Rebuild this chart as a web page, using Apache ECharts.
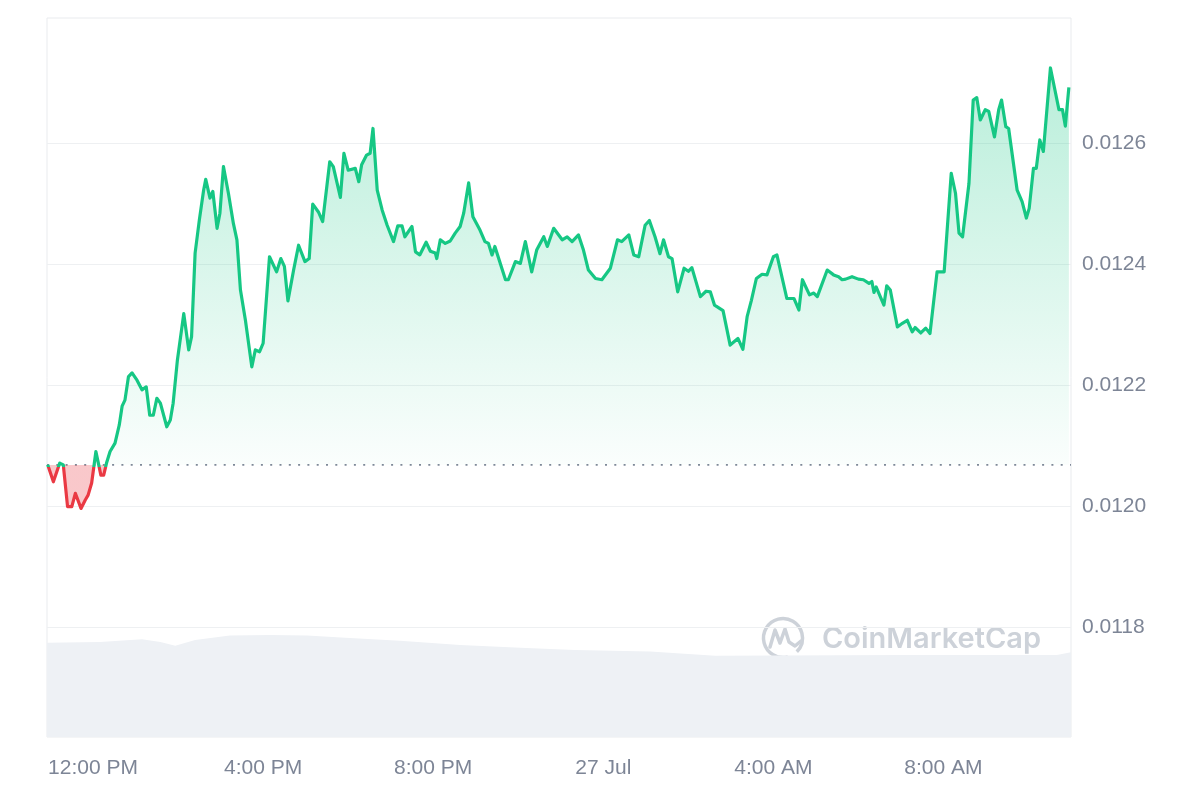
<!DOCTYPE html>
<html>
<head>
<meta charset="utf-8">
<script src="https://cdn.jsdelivr.net/npm/echarts@6/dist/echarts.min.js"></script>
<style>
html,body{margin:0;padding:0;background:#ffffff;}
#chart{width:1200px;height:800px;}
</style>
</head>
<body>
<div id="chart"></div>
<script>
// time in minutes from 12:00 PM (26 Jul)
const minutesFrom12PM = [
-64,-56,-47,-42,-36,-30,-25,-17,-11,-7,-2,4,8,11,15,19,24,31,37,41,45,50,55,62,69,75,80,85,90,95,
104,109,113,119,128,135,139,144,150,156,159,165,169,175,179,184,191,198,203,208,215,224,229,235,240,
249,259,265,270,275,283,290,299,305,310,318,324,334,339,349,354,360,370,375,379,386,391,395,401,408,
415,424,430,436,440,450,455,461,470,476,483,485,490,497,504,511,518,523,530,536,546,553,558,563,567,
582,586,596,603,610,619,626,636,641,650,662,669,676,685,692,699,709,718,730,740,746,756,763,770,779,
785,793,800,805,812,817,825,834,840,845,857,865,871,877,889,899,910,917,923,929,936,944,951,960,965,
979,989,996,1001,1011,1017,1022,1036,1045,1052,1057,1062,1071,1080,1087,1095,1099,1102,1105,1116,1120,
1125,1135,1142,1149,1156,1160,1168,1175,1181,1191,1201,1211,1217,1222,1227,1236,1242,1247,1252,1259,
1264,1272,1278,1282,1288,1292,1304,1311,1317,1321,1327,1331,1336,1341,1351,1363,1368,1372,1377
];
const price = [
0.012068,0.012040,0.012071,0.012068,0.011999,0.011999,0.012021,0.011996,0.012010,0.012018,0.012038,0.012090,0.012068,0.012051,0.012051,0.012071,0.012090,0.012104,0.012134,0.012165,0.012175,0.012214,0.012220,0.012208,0.012192,0.012197,0.012150,0.012150,0.012178,0.012170,
0.012131,0.012142,0.012170,0.012241,0.012318,0.012258,0.012280,0.012418,0.012473,0.012522,0.012540,0.012509,0.012520,0.012459,0.012484,0.012561,0.012517,0.012467,0.012440,0.012357,0.012307,0.012230,0.012258,0.012255,0.012269,
0.012412,0.012387,0.012409,0.012396,0.012339,0.012390,0.012431,0.012404,0.012409,0.012499,0.012486,0.012470,0.012569,0.012561,0.012510,0.012583,0.012555,0.012558,0.012536,0.012564,0.012580,0.012583,0.012624,0.012522,0.012489,
0.012464,0.012437,0.012463,0.012463,0.012445,0.012462,0.012420,0.012415,0.012436,0.012421,0.012418,0.012409,0.012440,0.012434,0.012438,0.012451,0.012462,0.012484,0.012534,0.012478,0.012456,0.012437,0.012434,0.012415,0.012429,
0.012374,0.012374,0.012404,0.012401,0.012437,0.012387,0.012423,0.012445,0.012429,0.012459,0.012440,0.012445,0.012437,0.012448,0.012423,0.012390,0.012376,0.012374,0.012393,0.012440,0.012437,0.012448,0.012415,0.012412,0.012464,
0.012472,0.012445,0.012417,0.012440,0.012412,0.012409,0.012354,0.012393,0.012388,0.012394,0.012346,0.012355,0.012354,0.012332,0.012323,0.012266,0.012277,0.012259,0.012313,0.012340,0.012376,0.012383,0.012382,0.012412,0.012415,
0.012343,0.012343,0.012324,0.012374,0.012349,0.012352,0.012346,0.012390,0.012382,0.012379,0.012374,0.012375,0.012379,0.012375,0.012374,0.012368,0.012371,0.012353,0.012362,0.012332,0.012364,
0.012357,0.012296,0.012302,0.012307,0.012288,0.012295,0.012286,0.012294,0.012285,0.012387,0.012387,0.012550,0.012517,0.012451,0.012445,0.012533,0.012671,0.012675,0.012638,0.012655,
0.012652,0.012610,0.012655,0.012671,0.012627,0.012624,0.012522,0.012503,0.012476,0.012492,0.012558,0.012558,0.012605,0.012586,0.012724,0.012655,0.012655,0.012628,0.012692
];
// volume (relative units) at minutes from 12:00 PM
const volMinutes = [-65,10,69,95,116,144,193,250,302,356,433,518,603,680,786,878,1145,1360,1380];
const volume =     [13.1,13.2,13.6,13.2,12.7,13.5,14.1,14.2,14.1,13.8,13.4,12.8,12.4,12.1,11.9,11.3,11.4,11.4,11.8];

const xTickMinutes = [0,240,480,720,960,1200];
const xTickLabels = ['12:00 PM','4:00 PM','8:00 PM','27 Jul','4:00 AM','8:00 AM'];
const yTickValues = [0.0118,0.0120,0.0122,0.0124,0.0126];

const xMin = -65, xMax = 1380;
const base = price[0];
const pMax = Math.max(...price), pMin = Math.min(...price);
const baseOffset = (pMax - base) / (pMax - pMin);

const priceData = minutesFrom12PM.map((t,i)=>[t, price[i]]);
const volData = volMinutes.map((t,i)=>[t, volume[i]]);
const baseData = [[xMin, base],[xMax, base]];

const chart = echarts.init(document.getElementById('chart'), null, {renderer:'canvas'});
const labelColor = '#7d8596';
const font = '"Liberation Sans", Arial, sans-serif';
const G = '#16c784', R = '#ea3943';

chart.setOption({
  animation:false,
  backgroundColor:'#ffffff',
  grid:{left:47, right:129, top:18, bottom:63, show:true, borderColor:'#e9ebee', borderWidth:1, backgroundColor:'transparent'},
  xAxis:{
    type:'value', min:xMin, max:xMax,
    axisLine:{show:false}, axisTick:{show:false}, splitLine:{show:false},
    axisLabel:{
      customValues:xTickMinutes,
      formatter:(v)=>{const i=xTickMinutes.indexOf(v); return i>=0?xTickLabels[i]:'';},
      color:labelColor, fontSize:21, fontFamily:font, margin:21
    }
  },
  yAxis:[{
    type:'value', position:'right', min:0.0116182, max:0.0128066, scale:true,
    axisLine:{show:false},
    axisTick:{show:false, customValues:yTickValues},
    splitLine:{show:true, lineStyle:{color:'#eef0f2', width:1}},
    axisLabel:{customValues:yTickValues, formatter:(v)=>v.toFixed(4), color:labelColor, fontSize:21, fontFamily:font, margin:11}
  },{
    type:'value', min:0, max:100, show:false, splitLine:{show:false}
  }],
  series:[{
    type:'line', yAxisIndex:1, data:volData, symbol:'none', silent:true,
    lineStyle:{width:0}, itemStyle:{color:'#eef1f5'},
    areaStyle:{color:'#eef1f5', opacity:1}, z:1
  },{
    type:'line', yAxisIndex:0, data:baseData, symbol:'none', silent:true, z:2,
    lineStyle:{color:'#7f8898', type:[2,7.3], width:1.6}, itemStyle:{color:'#7f8898'}
  },{
    type:'line', yAxisIndex:0, data:priceData, symbol:'none', z:3,
    lineStyle:{width:3.2, join:'round', color:new echarts.graphic.LinearGradient(0,0,0,1,[
      {offset:0, color:G},{offset:baseOffset, color:G},{offset:baseOffset, color:R},{offset:1, color:R}
    ])},
    itemStyle:{color:G},
    areaStyle:{
      origin:base, opacity:1,
      color:new echarts.graphic.LinearGradient(0,0,0,1,[
        {offset:0, color:'rgba(22,199,132,0.30)'},
        {offset:baseOffset, color:'rgba(22,199,132,0.02)'},
        {offset:baseOffset, color:'rgba(234,57,67,0.28)'},
        {offset:1, color:'rgba(234,57,67,0.28)'}
      ])
    }
  }],
  graphic:[
    {type:'group', left:761, top:616, silent:true, children:[
      {type:'arc', shape:{cx:22, cy:22, r:19.5, startAngle:Math.PI*0.42, endAngle:Math.PI*2.25}, style:{stroke:'#cdd2d9', lineWidth:3.5, fill:null}},
      {type:'polyline', shape:{points:[[9,31],[14,14],[19,27],[24,13],[28,26],[34,30],[40,25]]}, style:{stroke:'#cdd2d9', lineWidth:3.5, fill:null, lineJoin:'round', lineCap:'round'}}
    ]},
    {type:'text', left:822, top:625, silent:true, style:{text:'CoinMarketCap', font:'600 29px Inter, "Open Sans", sans-serif', fill:'#cdd2d9'}}
  ]
});
</script>
</body>
</html>
